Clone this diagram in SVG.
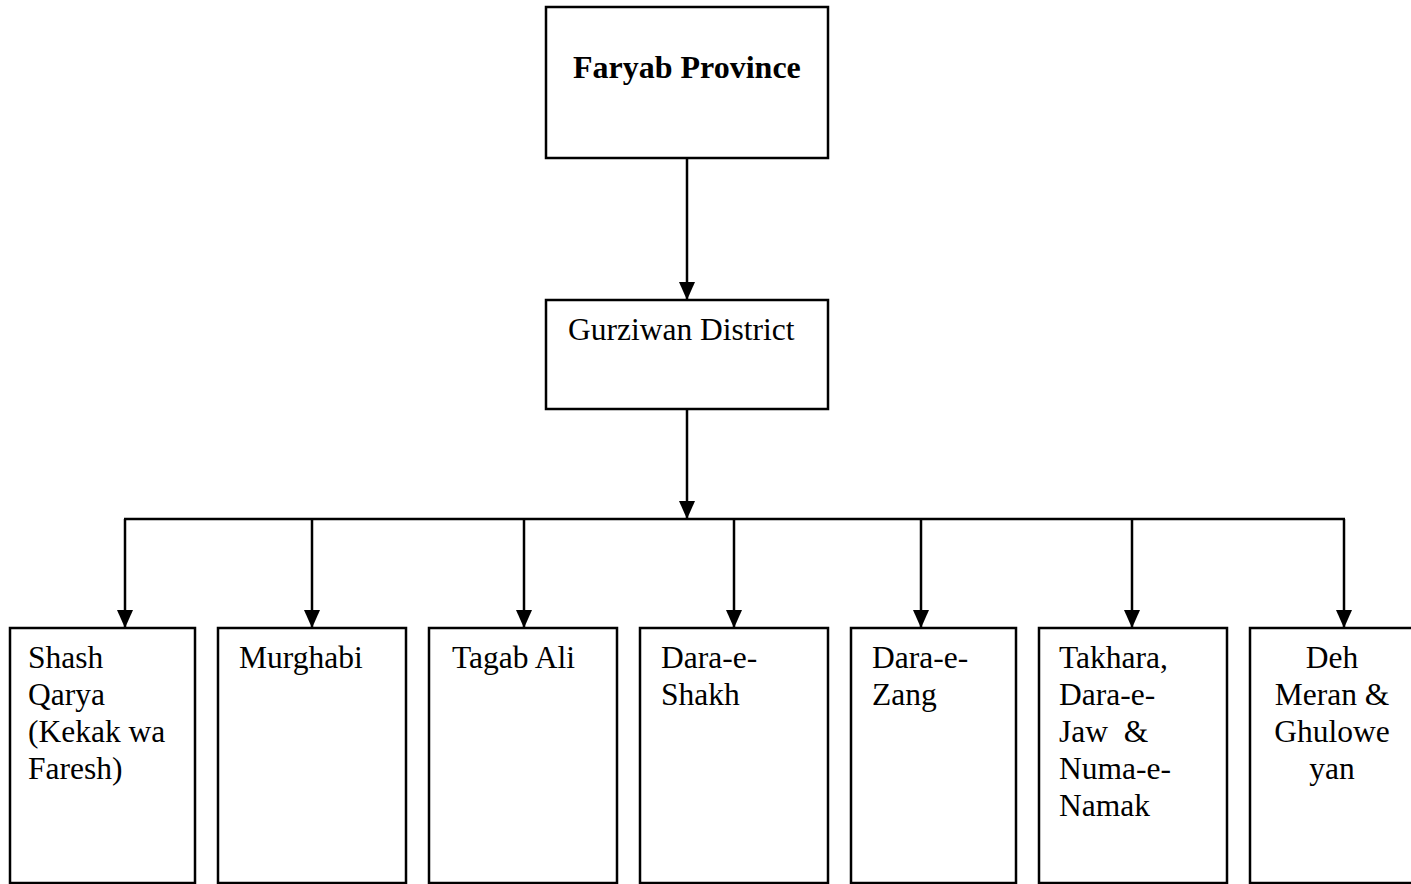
<svg xmlns="http://www.w3.org/2000/svg" width="1411" height="884" viewBox="0 0 1411 884">
<style>
.box{fill:#fff;stroke:#000;stroke-width:2.5}
.t{font-family:"Liberation Serif","Times New Roman",serif;font-size:31.5px;fill:#000}
.b{font-weight:bold;font-size:32px}
.c{stroke:#000;stroke-width:2.5;fill:none}
</style>
<defs>
<marker id="ah" markerUnits="userSpaceOnUse" markerWidth="18" markerHeight="18" refX="18" refY="8" orient="auto">
<path d="M0,0 L18,8 L0,16 Z" fill="#000"/>
</marker>
</defs>
<rect width="1411" height="884" fill="#fff"/>
<g id="connectors">
<line class="c" x1="687" y1="158" x2="687" y2="300" marker-end="url(#ah)"/>
<line class="c" x1="687" y1="409" x2="687" y2="519" marker-end="url(#ah)"/>
<line class="c" x1="124" y1="519" x2="1345" y2="519"/>
<line class="c" x1="125" y1="519" x2="125" y2="628" marker-end="url(#ah)"/>
<line class="c" x1="312" y1="519" x2="312" y2="628" marker-end="url(#ah)"/>
<line class="c" x1="524" y1="519" x2="524" y2="628" marker-end="url(#ah)"/>
<line class="c" x1="734" y1="519" x2="734" y2="628" marker-end="url(#ah)"/>
<line class="c" x1="921" y1="519" x2="921" y2="628" marker-end="url(#ah)"/>
<line class="c" x1="1132" y1="519" x2="1132" y2="628" marker-end="url(#ah)"/>
<line class="c" x1="1344" y1="519" x2="1344" y2="628" marker-end="url(#ah)"/>
</g>
<g id="faryab">
<rect class="box" x="546" y="7" width="282" height="151"/>
<text class="t b" x="573" y="78">Faryab Province</text>
</g>
<g id="gurziwan">
<rect class="box" x="546" y="300" width="282" height="109"/>
<text class="t" x="568" y="340">Gurziwan District</text>
</g>
<g id="shash">
<rect class="box" x="10" y="628" width="185" height="255"/>
<text class="t" x="28" y="668">Shash</text>
<text class="t" x="28" y="705">Qarya</text>
<text class="t" x="28" y="742">(Kekak wa</text>
<text class="t" x="28" y="779">Faresh)</text>
</g>
<g id="murghabi">
<rect class="box" x="218" y="628" width="188" height="255"/>
<text class="t" x="239" y="668">Murghabi</text>
</g>
<g id="tagab">
<rect class="box" x="429" y="628" width="188" height="255"/>
<text class="t" x="452" y="668">Tagab Ali</text>
</g>
<g id="shakh">
<rect class="box" x="640" y="628" width="188" height="255"/>
<text class="t" x="661" y="668">Dara-e-</text>
<text class="t" x="661" y="705">Shakh</text>
</g>
<g id="zang">
<rect class="box" x="851" y="628" width="165" height="255"/>
<text class="t" x="872" y="668">Dara-e-</text>
<text class="t" x="872" y="705">Zang</text>
</g>
<g id="takhara">
<rect class="box" x="1039" y="628" width="188" height="255"/>
<text class="t" x="1059" y="668">Takhara,</text>
<text class="t" x="1059" y="705">Dara-e-</text>
<text class="t" x="1059" y="742" xml:space="preserve">Jaw  &amp;</text>
<text class="t" x="1059" y="779">Numa-e-</text>
<text class="t" x="1059" y="816">Namak</text>
</g>
<g id="deh">
<rect class="box" x="1250" y="628" width="170" height="255"/>
<text class="t" x="1332" y="668" text-anchor="middle">Deh</text>
<text class="t" x="1332" y="705" text-anchor="middle">Meran &amp;</text>
<text class="t" x="1332" y="742" text-anchor="middle">Ghulowe</text>
<text class="t" x="1332" y="779" text-anchor="middle">yan</text>
</g>
</svg>
